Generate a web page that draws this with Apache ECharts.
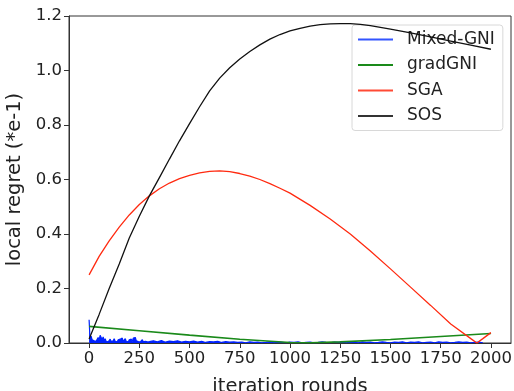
<!DOCTYPE html>
<html><head><meta charset="utf-8">
<script src="https://cdn.jsdelivr.net/npm/echarts@6/dist/echarts.min.js"></script>
<style>html,body{margin:0;padding:0;background:#fff}#c{width:514px;height:391px}</style>
</head><body><div id="c"></div>
<script>
var xTicks = [0,250,500,750,1000,1250,1500,1750,2000];
var yTicks = [0,0.2,0.4,0.6,0.8,1.0,1.2];
var seriesNames = ['Mixed-GNI','gradGNI','SGA','SOS'];

// Mixed-GNI: first part every 5 rounds (0..300), then every 20 rounds (320..1960)
var mixedHead = [0.085,0.010,0.025,0.012,0.018,0.008,0.015,0.006,0.012,0.020,
  0.010,0.028,0.030,0.012,0.022,0.008,0.016,0.006,0.012,0.004,
  0.010,0.014,0.005,0.012,0.008,0.016,0.006,0.010,0.004,0.012,
  0.006,0.014,0.008,0.018,0.006,0.012,0.016,0.006,0.010,0.004,
  0.012,0.008,0.014,0.005,0.018,0.012,0.020,0.008,0.014,0.005,
  0.010,0.004,0.008,0.012,0.004,0.008,0.006,0.011,0.004,0.007,0.005];
var mixedTail = [0.008,0.004,0.009,0.003,0.007,0.005,0.008,0.003,0.006,0.004,
  0.007,0.003,0.006,0.002,0.005,0.004,0.006,0.002,0.005,0.003,0.004,0.002,
  0.003,0.001,0.004,0.002,0.003,0.001,0.002,0.004,0.001,0.003,
  0.002,0.001,0.003,0.002,0.004,0.001,0.002,0.003,0.001,0.002,
  0.004,0.002,0.001,0.003,0.002,0.004,0.001,0.003,0.002,0.001,
  0.004,0.002,0.003,0.001,0.002,0.004,0.002,0.001,0.003,0.002,
  0.004,0.001,0.003,0.002,0.004,0.001,0.002,0.003,0.001,0.004,
  0.002,0.003,0.001,0.002,0.004,0.002,0.003,0.001,0.002,0.003,0.001];

var gradX = [0,250,500,750,1000,1100,1250,1500,1750,2000];
var gradY = [0.061,0.045,0.029,0.014,0.002,0.001,0.004,0.013,0.024,0.035];

var sgaX = [0,50,100,150,200,250,300,350,400,450,500,550,600,650,700,750,800,850,900,950,1000,1100,1200,1300,1400,1500,1600,1700,1800,1900,1930,1960,2000];
var sgaY = [0.25,0.318,0.375,0.425,0.47,0.508,0.54,0.566,0.587,0.603,0.615,0.624,0.63,0.632,0.629,0.622,0.612,0.60,0.585,0.568,0.55,0.505,0.455,0.40,0.338,0.272,0.205,0.138,0.07,0.016,0.0,0.016,0.038];

var sosX = [0,50,100,150,200,250,300,350,400,450,500,550,600,650,700,750,800,850,900,950,1000,1050,1100,1150,1200,1250,1300,1350,1400,1500,1600,1700,1800,1900,2000];
var sosY = [0.015,0.105,0.2,0.29,0.385,0.465,0.54,0.607,0.675,0.742,0.805,0.867,0.925,0.972,1.01,1.042,1.07,1.094,1.115,1.132,1.145,1.155,1.163,1.168,1.171,1.172,1.172,1.169,1.165,1.152,1.138,1.123,1.108,1.093,1.078];

function pairs(xs, ys){ return xs.map(function(x,i){ return [x, ys[i]]; }); }
var mixedData = [];
mixedHead.forEach(function(v,i){ mixedData.push([i*5, v]); });
mixedTail.forEach(function(v,i){ mixedData.push([320 + i*20, v]); });

var chart = echarts.init(document.getElementById('c'), null, {renderer:'canvas'});
var font = 'DejaVu Sans';
chart.setOption({
  animation:false,
  grid:{left:69, right:3, top:16, bottom:48, show:true, borderColor:'#333', borderWidth:1,
        backgroundColor:'transparent', outerBoundsMode:'none', containLabel:false},
  legend:{
    orient:'vertical', left:352, top:25,
    padding:[6,8,6,6], itemGap:8.5, itemWidth:35, itemHeight:2,
    backgroundColor:'rgba(255,255,255,0.8)', borderColor:'#d8d8d8', borderWidth:1, borderRadius:3,
    textStyle:{fontFamily:font, fontSize:17, color:'#222', padding:[0,0,0,9]},
    data: seriesNames.map(function(n){ return {name:n, icon:'rect'}; })
  },
  xAxis:{
    type:'value', min:-100, max:2100,
    axisLine:{show:true, onZero:false, lineStyle:{color:'#333', width:1}},
    axisTick:{show:true, length:5, lineStyle:{color:'#333'}, customValues:xTicks},
    axisLabel:{fontFamily:font, fontSize:16.5, color:'#222', margin:7, customValues:xTicks,
      formatter:function(v){ return String(v); }},
    splitLine:{show:false},
    name:'iteration rounds', nameLocation:'middle', nameGap:34,
    nameTextStyle:{fontFamily:font, fontSize:19.5, color:'#222'}
  },
  yAxis:{
    type:'value', min:0, max:1.2, interval:0.2,
    axisLine:{show:true, onZero:false, lineStyle:{color:'#333', width:1}},
    axisTick:{show:true, length:5, lineStyle:{color:'#333'}},
    axisLabel:{fontFamily:font, fontSize:16.5, color:'#222', margin:7,
      formatter:function(v){ return v.toFixed(1); }},
    splitLine:{show:false},
    name:'local regret (*e-1)', nameLocation:'middle', nameGap:34, nameRotate:90,
    nameTextStyle:{fontFamily:font, fontSize:19.5, color:'#222'}
  },
  series:[
    {name:'Mixed-GNI', type:'line', data:mixedData, showSymbol:false, symbol:'none',
      lineStyle:{color:'#0022ff', width:1.2}, areaStyle:{color:'#0022ff', opacity:1},
      itemStyle:{color:'#3355ff'}, z:2},
    {name:'gradGNI', type:'line', data:pairs(gradX,gradY), showSymbol:false, symbol:'none',
      lineStyle:{color:'#1a8a1a', width:1.6}, itemStyle:{color:'#1a8a1a'}, z:3},
    {name:'SGA', type:'line', data:pairs(sgaX,sgaY), showSymbol:false, symbol:'none',
      lineStyle:{color:'#ff2a10', width:1.3}, itemStyle:{color:'#ff4a35'}, z:4},
    {name:'SOS', type:'line', data:pairs(sosX,sosY), showSymbol:false, symbol:'none',
      lineStyle:{color:'#111', width:1.3}, itemStyle:{color:'#333'}, z:5}
  ]
});
</script></body></html>
